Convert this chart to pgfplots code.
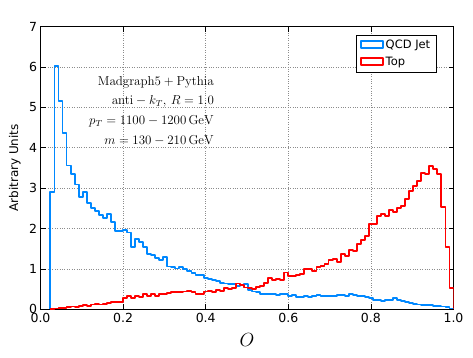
\documentclass[border=0pt]{standalone}
\usepackage[no-math]{fontspec}
\newfontfamily\dejavu{DejaVu Sans}
\usepackage{pgfplots}
\usepackage{pgfplotstable}
\pgfplotsset{compat=1.18}

\definecolor{qcdblue}{RGB}{0,136,255}
\definecolor{topred}{RGB}{255,0,0}

% left bin edges, normalised counts
\pgfplotstableread{
x qcd top
0.0240 0.00 0.00
0.0240 2.91 0.00
0.0338 6.03 0.02
0.0435 5.15 0.03
0.0533 4.37 0.04
0.0630 3.56 0.05
0.0728 3.35 0.07
0.0826 3.09 0.06
0.0923 2.79 0.09
0.1021 2.91 0.10
0.1118 2.64 0.09
0.1216 2.50 0.12
0.1314 2.44 0.13
0.1411 2.33 0.12
0.1509 2.25 0.14
0.1606 2.35 0.15
0.1704 2.17 0.17
0.1802 1.94 0.17
0.1899 1.93 0.19
0.1997 1.97 0.27
0.2094 1.90 0.33
0.2192 1.55 0.29
0.2290 1.74 0.34
0.2387 1.67 0.30
0.2485 1.55 0.37
0.2582 1.38 0.33
0.2680 1.34 0.37
0.2778 1.26 0.34
0.2875 1.22 0.38
0.2973 1.30 0.39
0.3070 1.06 0.41
0.3168 1.04 0.42
0.3266 1.01 0.43
0.3363 1.05 0.43
0.3461 0.99 0.44
0.3558 0.95 0.45
0.3656 0.90 0.43
0.3754 0.84 0.39
0.3851 0.86 0.38
0.3949 0.78 0.44
0.4046 0.76 0.45
0.4144 0.72 0.43
0.4242 0.70 0.47
0.4339 0.66 0.46
0.4437 0.64 0.52
0.4534 0.62 0.51
0.4632 0.63 0.52
0.4730 0.58 0.64
0.4827 0.61 0.60
0.4925 0.62 0.54
0.5022 0.47 0.52
0.5120 0.44 0.50
0.5218 0.43 0.56
0.5315 0.38 0.58
0.5413 0.39 0.66
0.5510 0.37 0.77
0.5608 0.39 0.72
0.5706 0.35 0.74
0.5803 0.38 0.73
0.5901 0.37 0.91
0.5998 0.34 0.83
0.6096 0.35 0.82
0.6194 0.31 0.85
0.6291 0.31 0.87
0.6389 0.33 0.99
0.6486 0.30 1.00
0.6584 0.34 0.95
0.6682 0.35 1.05
0.6779 0.33 1.08
0.6877 0.34 1.13
0.6974 0.32 1.21
0.7072 0.33 1.24
0.7170 0.36 1.18
0.7267 0.35 1.37
0.7365 0.34 1.33
0.7462 0.38 1.46
0.7560 0.36 1.45
0.7658 0.34 1.62
0.7755 0.33 1.72
0.7853 0.30 1.82
0.7950 0.28 2.12
0.8048 0.22 2.12
0.8146 0.23 2.30
0.8243 0.21 2.36
0.8341 0.24 2.30
0.8438 0.23 2.46
0.8536 0.28 2.40
0.8634 0.24 2.50
0.8731 0.20 2.55
0.8829 0.19 2.72
0.8926 0.15 2.92
0.9024 0.13 3.05
0.9122 0.12 3.18
0.9219 0.11 3.37
0.9317 0.10 3.35
0.9414 0.10 3.55
0.9512 0.09 3.47
0.9610 0.08 3.36
0.9707 0.07 2.54
0.9805 0.05 1.55
0.9902 0.02 0.52
1.0000 0.00 0.00
}\hist

\begin{document}
\begin{tikzpicture}
\begin{axis}[
  name=ax,
  at={(0,0)}, anchor=south west,
  scale only axis,
  width=413pt, height=282.8pt,
  xmin=0, xmax=1, ymin=0, ymax=7,
  xtick={0,0.2,...,1.0},
  ytick={0,1,...,7},
  /pgf/number format/assume math mode=true,
  xticklabel style={font=\dejavu\fontsize{12.5}{12.5}\selectfont,
    /pgf/number format/fixed, /pgf/number format/fixed zerofill,
    /pgf/number format/precision=1},
  yticklabel style={font=\dejavu\fontsize{12.5}{12.5}\selectfont},
  tick align=inside,
  major tick length=5pt,
  tick style={black, line width=0.6pt},
  axis line style={line width=0.8pt},
  grid=major,
  major grid style={dotted, black!45, line width=0.6pt},
  xlabel={$O$},
  xlabel style={font=\fontsize{17.28}{18}\selectfont, scale=1.1,
    at={(axis description cs:0.5,-0.11)}, anchor=center},
  ylabel={Arbitrary Units},
  ylabel style={font=\dejavu\fontsize{12}{12}\selectfont,
    at={(axis description cs:-0.062,0.5)}, anchor=center, rotate=0},
  legend style={at={(0.959,0.970)}, anchor=north east,
    font=\dejavu\fontsize{11.5}{13}\selectfont,
    draw=black, line width=0.6pt, inner xsep=4pt, inner ysep=3pt,
    row sep=3pt},
  legend cell align=left,
  legend image code/.code={
    \draw[#1, line width=1.8pt] (0pt,-3pt) rectangle (22pt,4pt);
  },
]
\addplot[const plot, qcdblue, line width=1.9pt, line join=round]
  table[x=x, y=qcd] {\hist};
\addlegendentry{QCD Jet}
\addplot[const plot, topred, line width=1.9pt, line join=round]
  table[x=x, y=top] {\hist};
\addlegendentry{Top}

\node[anchor=base east, font=\fontsize{12}{12}\selectfont, scale=1.08]
  at (axis cs:0.429,5.55) {$\mathrm{Madgraph5+Pythia}$};
\node[anchor=base east, font=\fontsize{12}{12}\selectfont, scale=1.08]
  at (axis cs:0.429,5.06) {$\mathrm{anti}-k_T,\,R=1.0$};
\node[anchor=base east, font=\fontsize{12}{12}\selectfont, scale=1.08]
  at (axis cs:0.429,4.57) {$p_T=1100-1200\,\mathrm{GeV}$};
\node[anchor=base east, font=\fontsize{12}{12}\selectfont, scale=1.08]
  at (axis cs:0.429,4.09) {$m=130-210\,\mathrm{GeV}$};
\end{axis}
\pgfresetboundingbox
\path[use as bounding box] (-40.5pt,-47.7pt) rectangle (432.5pt,309.3pt);
\end{tikzpicture}
\end{document}
